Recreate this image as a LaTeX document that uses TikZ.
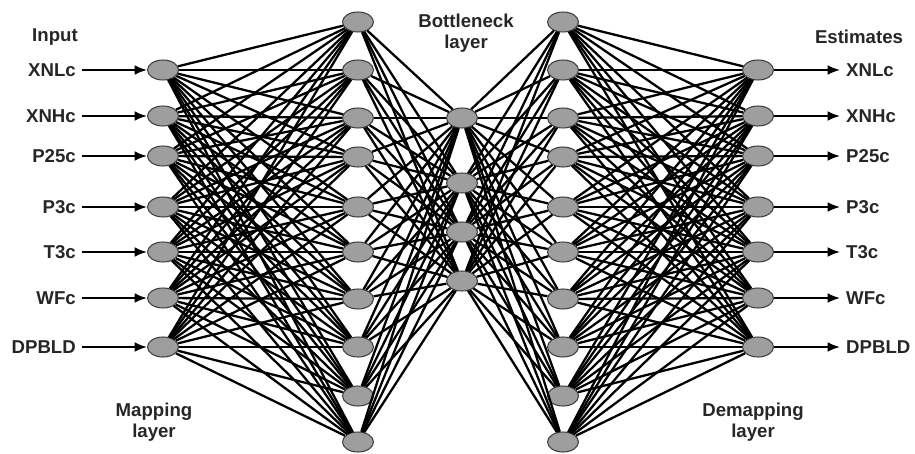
\documentclass[tikz,border=0pt]{standalone}
\usepackage{fontspec}
\setmainfont{Liberation Sans}
\usetikzlibrary{arrows.meta,positioning,shapes.geometric}

\tikzset{
  unit/.style={ellipse, draw=black!75, fill=black!38, line width=0.6pt,
    minimum width=0.62cm, minimum height=0.4cm, inner sep=0pt},
  link/.style={line width=1.3pt},
  feed/.style={line width=1pt, -{Latex[length=7pt,width=5.5pt]}},
  caption/.style={align=center, text=black!85}
}

\begin{document}
\begin{tikzpicture}[x=0.02cm, y=-0.02cm, font=\fontsize{10.6}{12}\selectfont\bfseries]
    \useasboundingbox (0,0) rectangle (915,453);
    % input and output layers
    \foreach \y [count=\i] in {70,116,156,207,252,298,347} {
        \node[unit] (in\i) at (163,\y) {};
        \node[unit] (out\i) at (758,\y) {};
    }
    % mapping and demapping layers
    \foreach \y [count=\i] in {22,70,118,157,207,252,299,347,396,442} {
        \node[unit] (map\i) at (358,\y) {};
        \node[unit] (demap\i) at (563,\y) {};
    }
    % bottleneck layer
    \foreach \y [count=\i] in {118,183,232,281}
        \node[unit] (bn\i) at (462,\y) {};
    % weights
    \foreach \i in {1,...,7}
        \foreach \j in {1,...,10} {
            \draw[link] (in\i) -- (map\j);
            \draw[link] (demap\j) -- (out\i);
        }
    \foreach \j in {1,...,10}
        \foreach \k in {1,...,4} {
            \draw[link] (map\j) -- (bn\k);
            \draw[link] (bn\k) -- (demap\j);
        }
    % variables in and out
    \foreach \v [count=\i] in {XNLc,XNHc,P25c,P3c,T3c,WFc,DPBLD} {
        \node[caption, left=1.3cm of in\i] (var\i) {\v};
        \node[caption, right=1.32cm of out\i] (est\i) {\v};
        \draw[feed] (var\i) -- (in\i);
        \draw[feed] (out\i) -- (est\i);
    }
    % layer names
    \node[caption] (inputlbl) at (55,37) {Input};
    \node[caption] (estlbl) at (859,37) {Estimates};
    \node[caption] (bnlbl) at (466,33) {Bottleneck\\layer};
    \node[caption] (maplbl) at (154,422) {Mapping\\layer};
    \node[caption] (demaplbl) at (753,422) {Demapping\\layer};
\end{tikzpicture}
\end{document}
